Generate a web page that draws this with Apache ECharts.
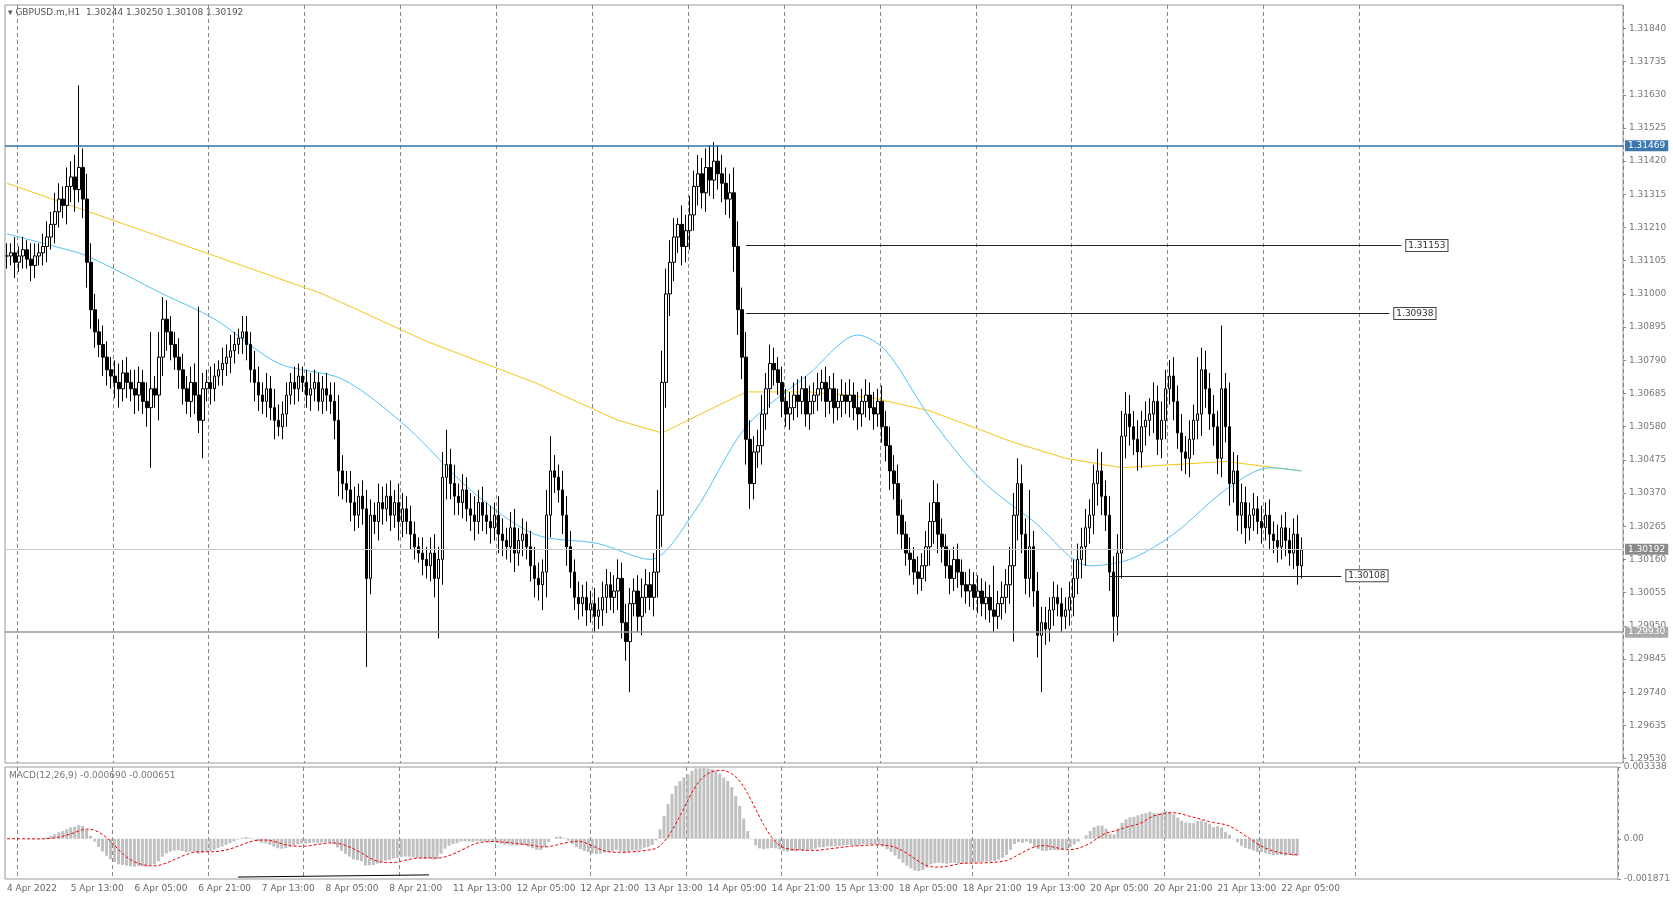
<!DOCTYPE html>
<html>
<head>
<meta charset="utf-8">
<script src="https://cdn.jsdelivr.net/npm/echarts@6/dist/echarts.min.js"></script>
<style>
  html, body { margin: 0; padding: 0; background: #fff; }
  #chart { width: 1673px; height: 897px; }
</style>
</head>
<body>
<div id="chart"></div>
<script>
// closes in pips above 1.30000, one per H1 bar
const closes = [
  112,113,110,112,114,111,109,112,113,115,
  118,122,126,130,128,134,137,133,140,130,
  110,95,88,84,80,76,74,72,70,75,
  72,70,68,72,66,64,70,68,80,92,
  88,84,80,76,70,66,72,68,60,70,
  72,70,74,76,78,80,82,84,86,88,
  84,76,72,68,66,70,64,60,58,62,
  68,72,70,74,72,68,70,72,66,70,
  68,66,60,44,40,38,34,30,36,32,
  10,30,28,34,32,36,30,34,28,32,
  28,24,20,18,16,14,18,10,16,42,
  46,40,36,34,38,32,30,28,34,30,
  28,26,30,24,22,20,26,18,22,24,
  20,14,10,8,12,30,44,42,38,30,
  20,12,4,2,4,0,2,-2,0,4,
  8,4,6,10,-4,-10,2,6,-2,4,
  8,4,12,30,72,100,110,118,122,115,
  120,125,134,138,132,140,136,142,138,135,
  130,132,115,95,80,54,40,50,52,62,
  70,78,76,72,66,62,64,68,66,70,
  62,66,68,70,72,66,70,64,66,68,
  66,68,64,62,66,68,64,62,66,58,
  52,44,40,30,24,18,16,12,10,14,
  20,28,34,24,20,14,10,16,12,8,
  6,8,4,6,2,4,0,-2,2,4,
  8,14,30,40,24,10,20,6,-8,-4,
  -6,0,4,2,-2,0,4,10,16,20,
  26,30,40,44,36,30,12,-2,18,55,
  62,58,54,50,58,60,62,66,54,60,
  70,74,66,56,50,48,54,60,62,76,
  70,62,58,48,70,58,40,44,30,34,
  26,30,32,28,26,30,24,22,20,26,
  22,18,24,14,19
];
const wicks = [
  4,3,5,3,4,3,5,4,3,4, 5,4,6,5,4,6,5,7,4,6, 8,6,5,4,6,5,4,5,6,4,
  5,4,6,5,4,6,5,4,8,6, 6,5,4,6,5,4,5,6,4,5, 4,5,4,3,5,4,5,4,3,5,
  5,4,6,5,4,5,4,6,5,4, 4,3,5,4,3,4,5,4,3,4, 5,4,6,8,5,4,6,5,4,5,
  6,5,4,6,5,4,5,4,6,5, 4,5,4,3,5,4,5,6,4,8, 7,5,6,4,5,4,5,6,4,5,
  4,5,4,6,5,4,5,6,4,5, 4,5,6,5,4,8,7,5,4,6, 6,5,4,5,4,5,4,5,4,5,
  5,4,5,6,5,6,5,4,5,6, 5,4,6,8,10,8,7,6,5,6, 5,6,5,6,5,6,5,6,5,6,
  5,6,8,8,7,8,6,5,5,6, 5,6,5,4,5,4,5,4,5,4, 4,5,4,5,4,5,4,5,4,5,
  4,5,4,5,4,5,4,5,4,5, 5,6,5,6,5,4,5,4,5,4, 5,6,7,6,5,4,5,4,5,4,
  4,5,4,5,4,5,4,5,4,5, 5,6,7,8,6,5,6,5,6,5, 5,4,5,4,5,4,5,6,5,6,
  6,5,6,7,6,5,6,5,6,8, 7,6,5,6,5,6,5,6,5,6, 6,5,6,5,6,5,6,5,6,7,
  6,5,6,5,6,5,7,6,5,6, 5,4,5,4,5,4,5,4,5,4, 5,4,5,6,4
];
// notable long wicks [bar, pips]
const spikeHigh = [[18,166],[36,88],[39,99],[48,96],[61,88],[110,57],[136,55],[168,124],[176,147],[178,147],[247,14],[256,38],[298,80],[304,90],[306,72]];
const spikeLow = [[36,45],[49,48],[68,55],[90,-18],[108,-9],[134,0],[156,-26],[186,32],[252,-10],[258,-15],[259,-26],[277,-10]];
const dayLabels = ['4 Apr 2022','5 Apr 13:00','6 Apr 05:00','6 Apr 21:00','7 Apr 13:00','8 Apr 05:00','8 Apr 21:00',
  '11 Apr 13:00','12 Apr 05:00','12 Apr 21:00','13 Apr 13:00','14 Apr 05:00','14 Apr 21:00','15 Apr 13:00',
  '18 Apr 05:00','18 Apr 21:00','19 Apr 13:00','20 Apr 05:00','20 Apr 21:00','21 Apr 13:00','22 Apr 05:00'];
// moving averages [bar, pips]
const maSlow = [[0,135],[25,124],[52,112],[79,100],[105,85],[132,72],[153,60],[164,56],[172,61],[185,69],[201,69],[217,67],[231,63],[252,53],[265,48],[279,45],[292,46],[305,47],[324,44]];
const maFast = [[0,119],[12,115],[20,112],[39,100],[52,92],[68,78],[84,73],[100,58],[116,38],[132,24],[148,21],[161,16],[172,31],[185,58],[201,75],[213,87],[220,82],[231,61],[244,41],[257,28],[271,14],[281,16],[292,24],[305,38],[316,45],[324,44]];
const yTicks = [1.29530,1.29635,1.29740,1.29845,1.29950,1.30055,1.30160,1.30265,1.30370,1.30475,1.30580,1.30685,1.30790,1.30895,1.31000,1.31105,1.31210,1.31315,1.31420,1.31525,1.31630,1.31735,1.31840];

const TOTAL = 405;
const px = p => +(1.3 + p / 10000).toFixed(5);
const cats = [];
for (let i = 0; i < TOTAL; i++) cats.push(i % 16 === 0 && dayLabels[i / 16] ? dayLabels[i / 16] : 'b' + i);

const hiMap = Object.fromEntries(spikeHigh), loMap = Object.fromEntries(spikeLow);
const candles = closes.map((c, i) => {
  const o = i ? closes[i - 1] : c;
  let h = Math.max(o, c) + wicks[i], l = Math.min(o, c) - wicks[i];
  if (hiMap[i] !== undefined) h = hiMap[i];
  if (loMap[i] !== undefined) l = loMap[i];
  return [px(o), px(c), px(l), px(h)];
});

// MACD(12,26,9) from the closes
function ema(arr, n) { const k = 2 / (n + 1); let e = arr[0]; return arr.map(v => (e = v * k + e * (1 - k))); }
const cp = closes.map(px);
const e12 = ema(cp, 12), e26 = ema(cp, 26);
const macd = e12.map((v, i) => v - e26[i]);
const signal = macd.map((v, i) => { const s = macd.slice(Math.max(0, i - 8), i + 1); return s.reduce((a, b) => a + b, 0) / s.length; });

const font = 'DejaVu Sans';
const chart = echarts.init(document.getElementById('chart'));
const boxLabel = (bg, fg) => ({ show: true, position: 'end', formatter: p => (+p.value).toFixed(5), color: fg, backgroundColor: bg, padding: [1, 3], fontSize: 9, fontFamily: font, distance: 2 });
const tagLabel = t => ({ show: true, position: 'end', formatter: t, color: '#333', fontSize: 9, fontFamily: font, borderColor: '#444', borderWidth: 1, backgroundColor: '#fff', padding: [1, 2] });
const thin = { color: '#222', width: 1, type: 'solid' };

chart.setOption({
  animation: false,
  backgroundColor: '#fff',
  grid: [
    { left: 5, right: 50, top: 5, height: 758, show: true, borderColor: '#999', borderWidth: 1 },
    { left: 5, right: 50, top: 767, height: 112, show: true, borderColor: '#999', borderWidth: 1 }
  ],
  xAxis: [0, 1].map(g => ({
    type: 'category', gridIndex: g, data: cats, boundaryGap: true,
    axisLine: { show: false }, axisTick: { show: false },
    axisLabel: g === 1 ? { show: true, interval: i => i % 16 === 0 && i / 16 < dayLabels.length, color: '#666', fontSize: 9, fontFamily: font, align: 'left', margin: 5 } : { show: false },
    splitLine: { show: true, interval: i => (i - 3) % 24 === 0 && i < 350, lineStyle: { color: '#888', type: [4, 3], width: 1 } }
  })),
  yAxis: [
    { type: 'value', gridIndex: 0, position: 'right', min: 1.29516, max: 1.31914, scale: true,
      axisLine: { show: false }, splitLine: { show: false },
      axisTick: { show: true, customValues: yTicks, length: 3, lineStyle: { color: '#888' } },
      axisLabel: { customValues: yTicks, formatter: v => v.toFixed(5), color: '#777', fontSize: 9, fontFamily: font, margin: 6 } },
    { type: 'value', gridIndex: 1, position: 'right', min: -0.001871, max: 0.003338,
      axisLine: { show: false }, splitLine: { show: false },
      axisTick: { show: true, customValues: [0.003338, 0, -0.001871], length: 3, lineStyle: { color: '#888' } },
      axisLabel: { customValues: [0.003338, 0, -0.001871], formatter: v => v === 0 ? '0.00' : v.toFixed(6), color: '#777', fontSize: 9, fontFamily: font, margin: 6 } }
  ],
  series: [
    { type: 'candlestick', data: candles, barWidth: 3, xAxisIndex: 0, yAxisIndex: 0,
      itemStyle: { color: '#fff', color0: '#000', borderColor: '#000', borderColor0: '#000', borderWidth: 1 },
      markLine: { symbol: 'none', silent: true, animation: false, precision: 6, data: [
        { yAxis: 1.31469, lineStyle: { color: '#2f6ea8', width: 1.5, type: 'solid' }, label: boxLabel('#3b78b0', '#fff') },
        { yAxis: 1.30192, lineStyle: { color: '#c8c8c8', width: 1, type: 'solid' }, label: boxLabel('#8a8a8a', '#fff') },
        { yAxis: 1.29930, lineStyle: { color: '#999', width: 1.5, type: 'solid' }, label: boxLabel('#aaa', '#fff') },
        [{ coord: ['b185', 1.31153], lineStyle: thin, label: tagLabel('1.31153') }, { coord: ['b349', 1.31153] }],
        [{ coord: ['b185', 1.30938], lineStyle: thin, label: tagLabel('1.30938') }, { coord: ['b346', 1.30938] }],
        [{ coord: ['b276', 1.30108], lineStyle: thin, label: tagLabel('1.30108') }, { coord: ['b334', 1.30108] }]
      ] } },
    { type: 'line', data: maSlow.map(([i, p]) => [cats[i], px(p)]), showSymbol: false, lineStyle: { color: '#f5c518', width: 1 }, xAxisIndex: 0, yAxisIndex: 0, z: 1 },
    { type: 'line', data: maFast.map(([i, p]) => [cats[i], px(p)]), showSymbol: false, smooth: 0.3, lineStyle: { color: '#4fc3f7', width: 1 }, xAxisIndex: 0, yAxisIndex: 0, z: 1 },
    { type: 'bar', data: macd, xAxisIndex: 1, yAxisIndex: 1, barWidth: 3, itemStyle: { color: '#c0c0c0' },
      markLine: { symbol: 'none', silent: true, precision: 6, label: { show: false }, lineStyle: { color: '#000', type: 'solid', width: 1 }, data: [
        [{ coord: ['b231', -0.00095] }, { coord: ['b272', -0.0004] }],
        [{ coord: ['b58', -0.00178] }, { coord: ['b106', -0.00168] }]
      ] } },
    { type: 'line', data: signal, xAxisIndex: 1, yAxisIndex: 1, showSymbol: false, lineStyle: { color: '#e00', width: 1, type: [3, 2] } }
  ],
  graphic: [
    { type: 'text', left: 8, top: 8, style: { text: '▾ GBPUSD.m,H1  1.30244 1.30250 1.30108 1.30192', fill: '#555', font: '9px ' + font } },
    { type: 'text', left: 9, top: 771, style: { text: 'MACD(12,26,9) -0.000690 -0.000651', fill: '#777', font: '9px ' + font } }
  ]
});
</script>
</body>
</html>
